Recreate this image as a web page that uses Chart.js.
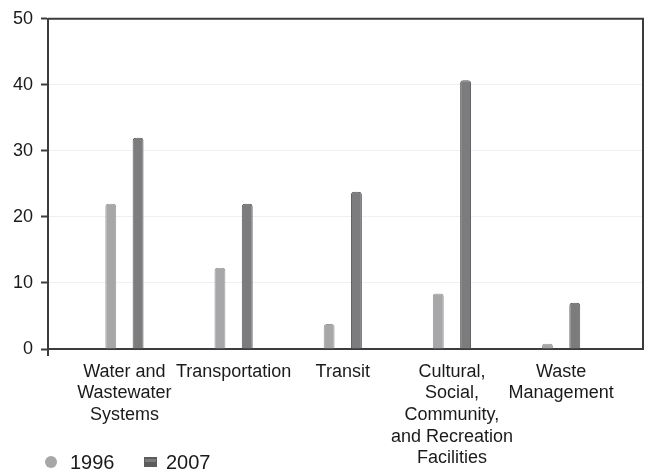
<!DOCTYPE html>
<html>
<head>
<meta charset="utf-8">
<script src="https://cdn.jsdelivr.net/npm/chart.js@4/dist/chart.umd.min.js"></script>
<style>
  html, body { margin: 0; padding: 0; background: #fff; }
  #wrap { width: 646px; height: 472px; }
</style>
</head>
<body>
<div id="wrap"><canvas id="chart"></canvas></div>
<script>
const categories = [
    ['Water and', 'Wastewater', 'Systems'],
    ['Transportation'],
    ['Transit'],
    ['Cultural,', 'Social,', 'Community,', 'and Recreation', 'Facilities'],
    ['Waste', 'Management'],
];
const seriesNames = ['1996', '2007'];
const values1996 = [22, 12.3, 3.8, 8.4, 0.8];
const values2007 = [32, 22, 23.8, 40.7, 7];
const yTicks = [0, 10, 20, 30, 40, 50];

const axisColor = '#3c3c3c';
const fontFamily = "'Liberation Sans', Arial, sans-serif";

// frame (top + right) like the original plot box
const framePlugin = {
    id: 'frame',
    afterDraw(chart) {
        const {ctx, chartArea} = chart;
        ctx.save();
        ctx.strokeStyle = axisColor;
        ctx.lineWidth = 2;
        ctx.beginPath();
        ctx.moveTo(chartArea.left, chartArea.top);
        ctx.lineTo(chartArea.right, chartArea.top);
        ctx.lineTo(chartArea.right, chartArea.bottom);
        ctx.moveTo(chartArea.left, chartArea.bottom);
        ctx.lineTo(chartArea.left, chartArea.bottom + 7);
        ctx.stroke();
        ctx.restore();
    }
};

// legend sits bottom-left, beside the last axis label rows
const legendPlugin = {
    id: 'bottomLegend',
    afterDraw(chart) {
        const {ctx} = chart;
        const y = 462;
        ctx.save();
        ctx.font = `20px ${fontFamily}`;
        ctx.textBaseline = 'middle';
        const ds = chart.data.datasets;
        // 1996: round marker
        ctx.fillStyle = ds[0].backgroundColor;
        ctx.beginPath();
        ctx.arc(51, y, 6, 0, Math.PI * 2);
        ctx.fill();
        ctx.fillStyle = '#1a1a1a';
        ctx.fillText(ds[0].label, 70, y + 1);
        // 2007: small block marker
        ctx.fillStyle = ds[1].borderColor;
        ctx.fillRect(144, y - 5, 13, 10);
        ctx.fillStyle = ds[1].backgroundColor;
        ctx.fillRect(145, y - 3, 11, 3);
        ctx.fillStyle = '#1a1a1a';
        ctx.fillText(ds[1].label, 166, y + 1);
        ctx.restore();
    }
};

Chart.defaults.font.family = fontFamily;
Chart.defaults.color = '#1a1a1a';

new Chart(document.getElementById('chart'), {
    type: 'bar',
    data: {
        datasets: [
            {
                label: seriesNames[0],
                data: values1996.map((v, i) => ({x: i, y: v})),
                backgroundColor: '#a7a7aa',
                borderColor: '#9a9a9d',
                borderWidth: 1,
                borderRadius: {topLeft: 3, topRight: 3},
                borderSkipped: 'bottom',
            },
            {
                label: seriesNames[1],
                data: values2007.map((v, i) => ({x: i, y: v})),
                backgroundColor: '#7c7c7f',
                borderColor: '#5c5c5f',
                borderWidth: 1,
                borderRadius: {topLeft: 3, topRight: 3},
                borderSkipped: 'bottom',
            },
        ],
    },
    options: {
        responsive: true,
        maintainAspectRatio: false,
        animation: false,
        categoryPercentage: 0.5,
        barPercentage: 0.4,
        layout: {padding: {top: 17, right: 3, left: 0, bottom: 0}},
        plugins: {
            legend: {display: false},
            tooltip: {enabled: false},
        },
        scales: {
            x: {
                type: 'linear',
                offset: false,
                min: -0.7,
                max: 4.75,
                afterBuildTicks: (axis) => {
                    axis.ticks = categories.map((c, i) => ({value: i}));
                },
                afterFit: (axis) => { axis.height = 123; },
                ticks: {
                    autoSkip: false,
                    maxRotation: 0,
                    minRotation: 0,
                    padding: 12,
                    font: {size: 18},
                    callback: (value) => categories[value],
                },
                grid: {display: false, drawTicks: false},
                border: {display: true, color: axisColor, width: 2},
            },
            y: {
                min: 0,
                max: 50,
                afterBuildTicks: (axis) => {
                    axis.ticks = yTicks.map(v => ({value: v}));
                },
                afterFit: (axis) => { axis.width = 48; },
                ticks: {
                    padding: 8,
                    font: {size: 18},
                },
                grid: {
                    color: '#f0f0f0',
                    tickColor: axisColor,
                    tickLength: 7,
                    tickWidth: 2,
                },
                border: {display: true, color: axisColor, width: 2},
            },
        },
    },
    plugins: [framePlugin, legendPlugin],
});
</script>
</body>
</html>
